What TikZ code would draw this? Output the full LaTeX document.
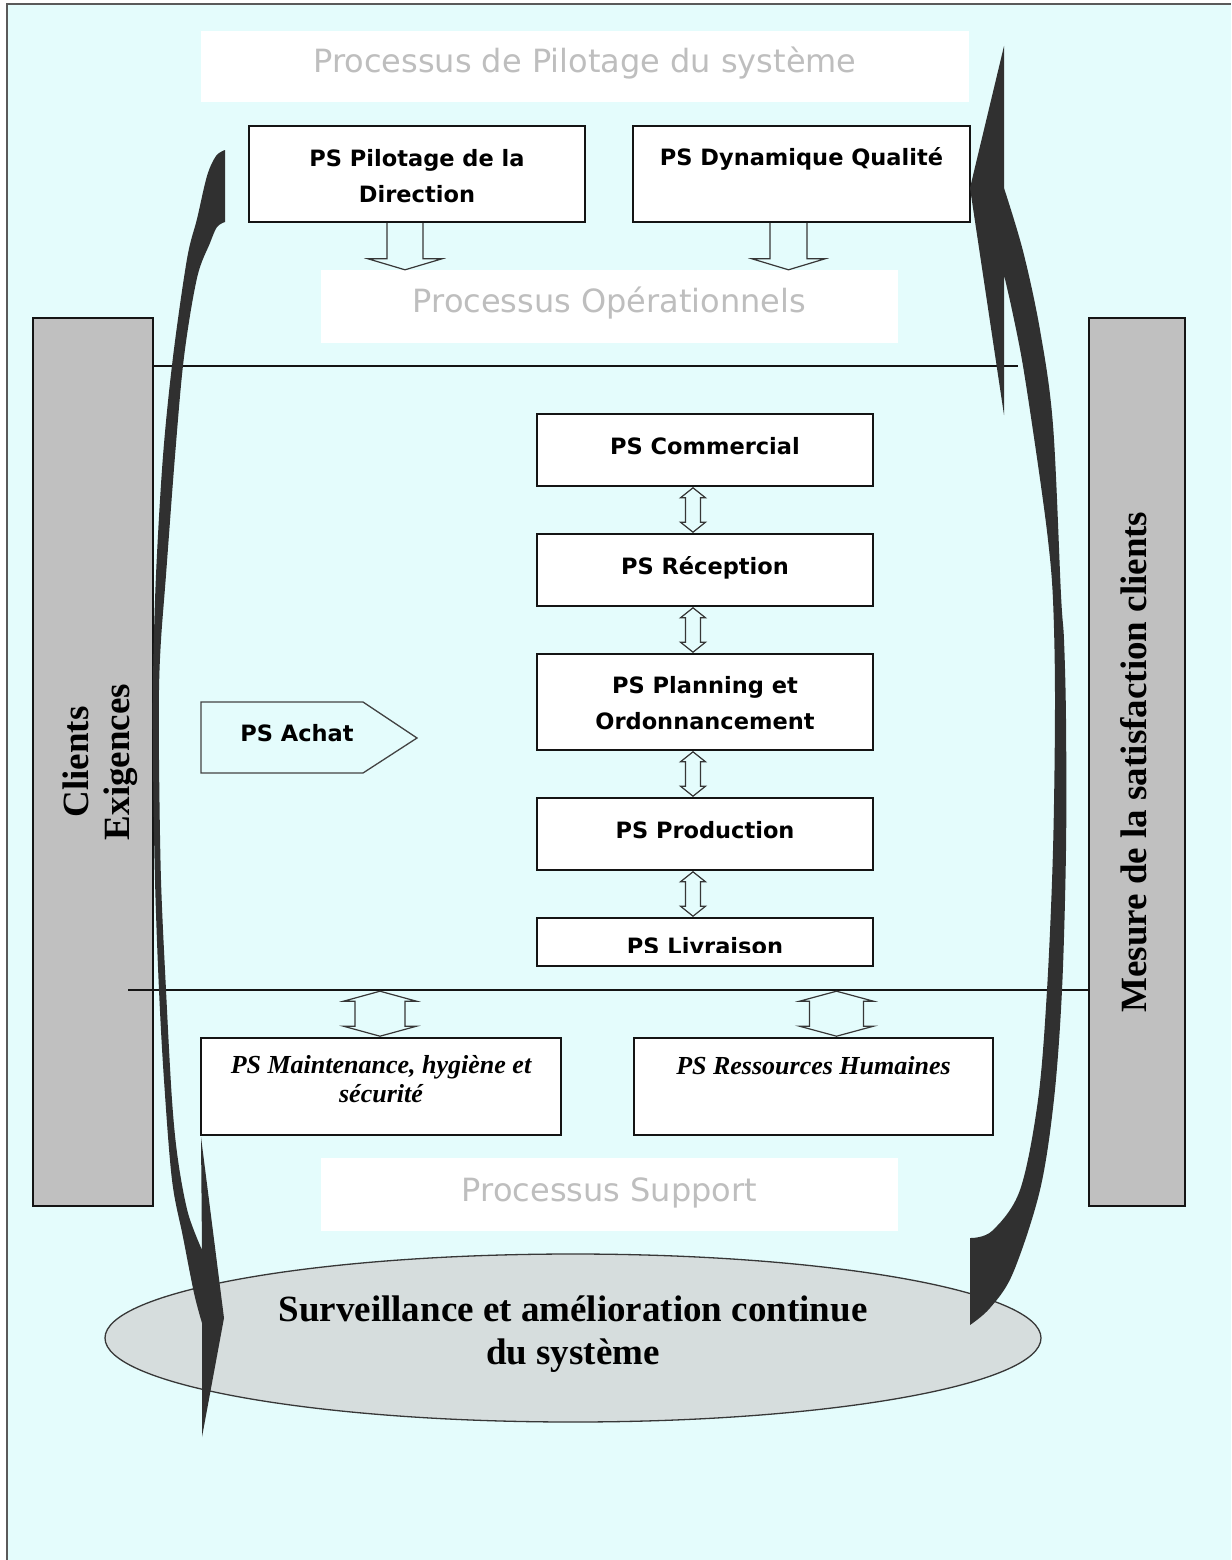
\documentclass[tikz,border=0pt]{standalone}
\usepackage{fontspec}
\setmainfont{Liberation Serif}
\newfontfamily\dvsans{DejaVu Sans}
\usetikzlibrary{calc,shapes.geometric}

\definecolor{bgcyan}{RGB}{228,252,252}
\definecolor{labelgray}{RGB}{190,190,190}
\definecolor{sidegray}{RGB}{192,192,192}
\definecolor{ribbon}{RGB}{48,48,48}
\definecolor{ellgray}{RGB}{214,221,221}
\definecolor{ink}{RGB}{20,20,20}
\definecolor{framegray}{RGB}{90,90,90}

% vertical hollow double arrow: top tip, bottom tip, shaft half, head half, head length
\newcommand\vdblarrow[5]{%
  \draw[hollowarrow] let \p1=(#1), \p2=(#2) in
    (\x1,\y1) -- (\x1+#4pt,\y1-#5pt) -- (\x1+#3pt,\y1-#5pt) -- (\x1+#3pt,\y2+#5pt)
    -- (\x1+#4pt,\y2+#5pt) -- (\x1,\y2) -- (\x1-#4pt,\y2+#5pt) -- (\x1-#3pt,\y2+#5pt)
    -- (\x1-#3pt,\y1-#5pt) -- (\x1-#4pt,\y1-#5pt) -- cycle;}
% vertical hollow down arrow: shaft top, tip, shaft half, head half, head length
\newcommand\vdownarrow[5]{%
  \draw[hollowarrow] let \p1=(#1), \p2=(#2) in
    (\x1-#3pt,\y1) -- (\x1-#3pt,\y2+#5pt) -- (\x1-#4pt,\y2+#5pt) -- (\x1,\y2)
    -- (\x1+#4pt,\y2+#5pt) -- (\x1+#3pt,\y2+#5pt) -- (\x1+#3pt,\y1);}

\begin{document}
\begin{tikzpicture}[x=1pt, y=-1pt,
  band/.style={fill=white, draw=none, inner sep=0pt},
  graylabel/.style={text=labelgray, font=\dvsans\fontsize{32}{38}\selectfont, inner sep=0pt},
  pbox/.style={draw=ink, line width=1.6pt, fill=white, inner sep=0pt},
  comic/.style={font=\dvsans\bfseries\fontsize{22.5}{36}\selectfont, align=center, inner sep=0pt},
  sidebox/.style={draw=ink, line width=1.6pt, fill=sidegray, inner sep=0pt, minimum height=888pt},
  sidetext/.style={font=\bfseries\fontsize{37}{41}\selectfont, align=center, rotate=90, inner sep=0pt},
  supporttext/.style={font=\bfseries\itshape\fontsize{26}{29}\selectfont, align=center, inner sep=0pt},
  hollowarrow/.style={draw=ink!85, line width=1.2pt, line join=miter},
  sepline/.style={draw=ink, line width=1.4pt},
  ribbonfill/.style={fill=ribbon, draw=none}
]
\useasboundingbox (0,0) rectangle (1231,1560);
% background and frame
\fill[bgcyan] (7,4) rectangle (1231,1560);
\draw[framegray, line width=1.5pt] (7,1560) -- (7,4) -- (1231,4);

% white bands with gray titles
\node[band, minimum width=768pt, minimum height=71pt] (bandP) at (585,66.5) {};
\node[graylabel] (bandPt) at (585,63.5) {Processus de Pilotage du système};
\node[band, minimum width=577pt, minimum height=73pt] (bandO) at (609.5,306.5) {};
\node[graylabel] (bandOt) at (609.5,303.5) {Processus Opérationnels};
\node[band, minimum width=577pt, minimum height=73pt] (bandS) at (609.5,1194.5) {};
\node[graylabel] (bandSt) at (609.5,1192.5) {Processus Support};

% side boxes
\node[sidebox, minimum width=120pt] (cli) at (93,762) {};
\node[sidetext] (clit) at (100,762) {Clients\\Exigences};
\node[sidebox, minimum width=96pt] (mes) at (1137,762) {};
\node[sidetext] (mest) at (1134,762) {Mesure de la satisfaction clients};

% separator lines
\coordinate (upL) at (153,366); \coordinate (upR) at (1018,366);
\coordinate (loL) at (128,990); \coordinate (loR) at (1089,990);
\draw[sepline] (upL) -- (upR);
\draw[sepline] (loL) -- (loR);

% pilot boxes
\node[pbox, minimum width=336pt, minimum height=96pt] (pil) at (417,174) {};
\node[comic] (pilt) at (417,176) {PS Pilotage de la\\Direction};
\node[pbox, minimum width=337pt, minimum height=96pt] (dyn) at (801.5,174) {};
\node[comic] (dynt) at (801.5,159) {PS Dynamique Qualité};
\vdownarrow{$(pil.south)+(-12,0)$}{$(pil.south)+(-12,47)$}{18}{37}{11}
\vdownarrow{$(dyn.south)+(-13,0)$}{$(dyn.south)+(-13,47)$}{18.5}{36.5}{11}

% operational chain
\node[pbox, minimum width=336pt, minimum height=72pt] (com) at (705,450) {};
\node[comic] (comt) at (705,446.5) {PS Commercial};
\node[pbox, minimum width=336pt, minimum height=72pt] (rec) at (705,570) {};
\node[comic] (rect) at (705,568) {PS Réception};
\node[pbox, minimum width=336pt, minimum height=96pt] (pla) at (705,702) {};
\node[comic] (plat) at (705,703.5) {PS Planning et\\Ordonnancement};
\node[pbox, minimum width=336pt, minimum height=72pt] (pro) at (705,834) {};
\node[comic] (prot) at (705,830.5) {PS Production};
\node[pbox, minimum width=336pt, minimum height=48pt] (liv) at (705,942) {};
\begin{scope}
  \clip (537,919) rectangle (873,952);
  \node[comic] (livt) at (705,946.5) {PS Livraison};
\end{scope}
\vdblarrow{$(com.south)+(-12,1)$}{$(rec.north)+(-12,-1)$}{7.5}{12.5}{10}
\vdblarrow{$(rec.south)+(-12,1)$}{$(pla.north)+(-12,-1)$}{7.5}{12.5}{10}
\vdblarrow{$(pla.south)+(-12,1)$}{$(pro.north)+(-12,-1)$}{7.5}{12.5}{10}
\vdblarrow{$(pro.south)+(-12,1)$}{$(liv.north)+(-12,-1)$}{7.5}{12.5}{10}

% PS Achat
\node[comic] (ach) at (297,733.5) {PS Achat};
\draw[draw=ink!80, line width=1.3pt] (201,702) -- (363,702) -- (417,738) -- (363,773) -- (201,773) -- cycle;

% support boxes
\node[pbox, minimum width=360pt, minimum height=97pt] (mh) at (381,1086.5) {};
\node[supporttext] (mht) at (381,1079.5) {PS Maintenance, hygiène et\\sécurité};
\node[pbox, minimum width=359pt, minimum height=97pt] (rh) at (813.5,1086.5) {};
\node[supporttext] (rht) at (813.5,1065.3) {PS Ressources Humaines};
\vdblarrow{$(mh.north)+(-1,-46)$}{$(mh.north)+(-1,-1)$}{25}{36.5}{10}
\vdblarrow{$(rh.north)+(23,-46)$}{$(rh.north)+(23,-1)$}{27}{37}{10}

% ellipse
\node[ellipse, draw=ink!85, line width=1.3pt, fill=ellgray, minimum width=936pt, minimum height=168pt, inner sep=0pt] (surv) at (573,1338) {};
\node[font=\bfseries\fontsize{37}{43}\selectfont, align=center, inner sep=0pt] (survt) at (573,1334.5) {Surveillance et amélioration continue\\du système};

% left curved ribbon arrow (down)
\fill[ribbonfill] (225,150)
  -- plot[smooth, tension=0.55] coordinates {(225,150) (216,156) (207,176) (197,219) (187,259) (173,357) (163,456) (156,575) (153,680) (153,760) (155,880) (159,990) (164,1080) (172,1180) (183,1237) (194,1293) (202,1323)}
  -- (202,1437) -- (224,1318) -- (201,1137) -- (202,1250)
  -- plot[smooth, tension=0.55] coordinates {(202,1250) (188,1213) (178,1160) (172,1100) (166,990) (161,880) (159,760) (159,690) (161,640) (166,575) (175,456) (184,357) (197,278) (210,243) (217,227) (225,222)}
  -- cycle;

% right curved ribbon arrow (up)
\fill[ribbonfill] (1004,46) -- (970,188) -- (1004,415) -- (1004,275)
  -- plot[smooth, tension=0.55] coordinates {(1004,275) (1012,310) (1023,366) (1038,465) (1048,540) (1053,600) (1055,700) (1053,850) (1047,990) (1038,1100) (1020,1190) (992,1231) (970,1238)}
  -- (970,1325)
  -- plot[smooth, tension=0.55] coordinates {(970,1325) (990,1308) (1013,1273) (1040,1190) (1054,1099) (1062,990) (1066,850) (1066,720) (1064,640) (1061,595) (1053,425) (1040,330) (1023,251) (1004,188)}
  -- cycle;
\end{tikzpicture}
\end{document}
